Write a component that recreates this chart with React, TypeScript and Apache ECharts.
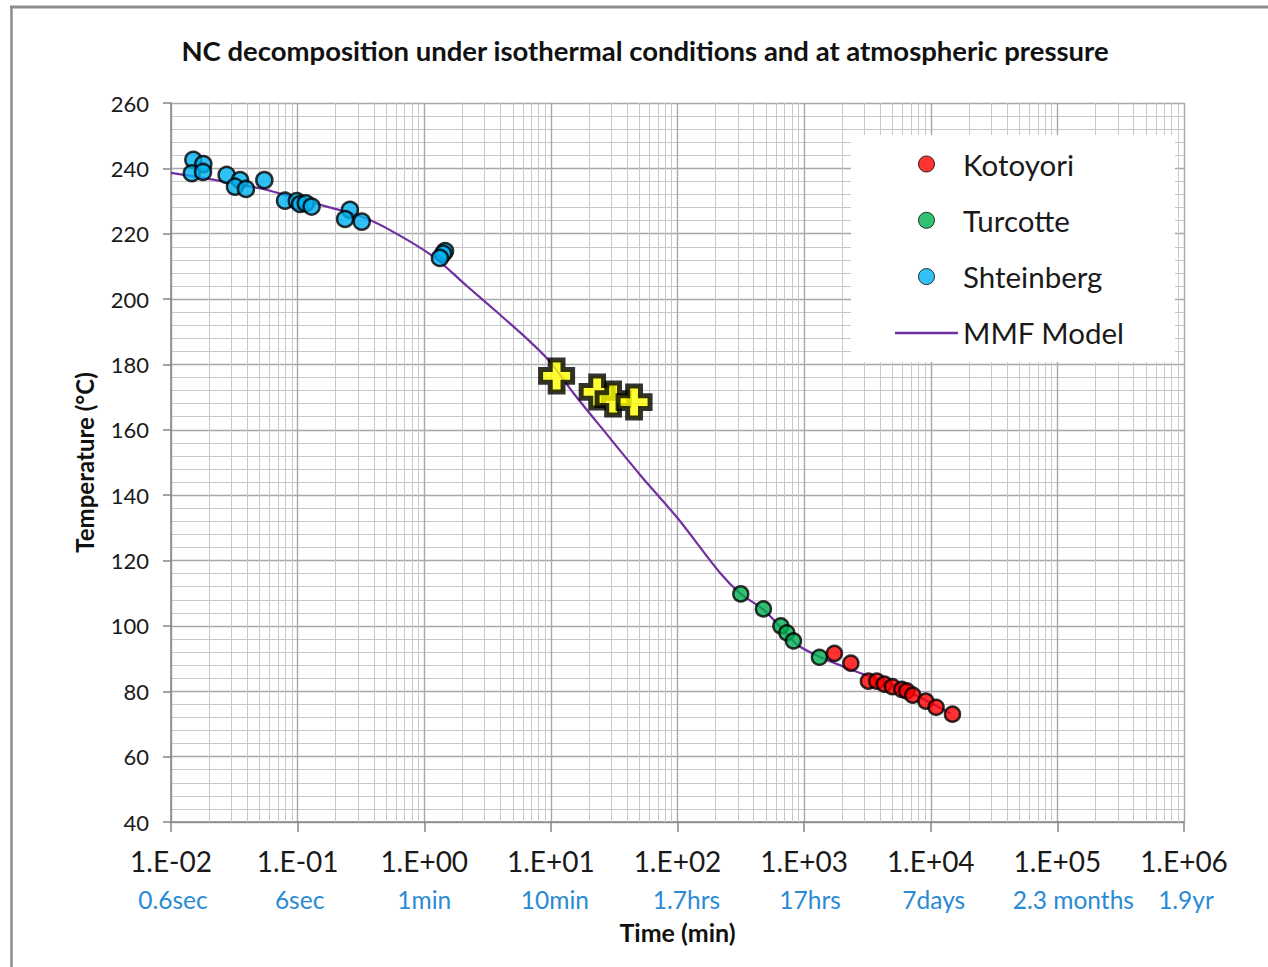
import React, { useEffect, useRef } from 'react';
import * as echarts from 'echarts';

const chartTitle = 'NC decomposition under isothermal conditions and at atmospheric pressure';
const xTickLabels = ['1.E-02', '1.E-01', '1.E+00', '1.E+01', '1.E+02', '1.E+03', '1.E+04', '1.E+05', '1.E+06'];
const xTimeLabels = ['0.6sec', '6sec', '1min', '10min', '1.7hrs', '17hrs', '7days', '2.3 months', '1.9yr'];

// [time (min), temperature (°C)]
const shteinberg: [number, number][] = [
  [0.0150, 242.6], [0.0180, 241.3], [0.0146, 238.5], [0.0179, 238.9],
  [0.0275, 238.0], [0.0351, 236.4], [0.0320, 234.4], [0.0391, 233.7],
  [0.0546, 236.4], [0.0795, 230.1], [0.0985, 230.0], [0.1045, 229.1],
  [0.116, 229.3], [0.129, 228.3], [0.259, 227.3], [0.237, 224.5],
  [0.321, 223.7], [1.46, 214.7], [1.41, 213.9], [1.33, 212.6],
];
const yellowCrosses: [number, number][] = [
  [11.1, 176.5], [23.2, 171.6], [31.0, 169.4], [45.4, 168.5],
];
const turcotte: [number, number][] = [
  [316, 109.8], [477, 105.2], [655, 100.0], [730, 97.9], [824, 95.4], [1321, 90.4],
];
const kotoyori: [number, number][] = [
  [1734, 91.6], [2339, 88.6], [3221, 83.1], [3750, 83.1], [4306, 82.2], [4978, 81.4],
  [5902, 80.6], [6469, 80.1], [7218, 78.8], [9140, 77.0], [11030, 75.1], [14840, 73.0],
];
const mmfModel: [number, number][] = [
  [0.01, 238.6], [0.0203, 236.7], [0.0505, 233.9], [0.0925, 231.1], [0.170, 228.3],
  [0.311, 225.4], [0.537, 221.1], [1.18, 213.0], [2.17, 204.0], [3.97, 195.2],
  [6.85, 187.0], [9.86, 180.8], [15.1, 171.2], [26.0, 159.9], [50.7, 146.2],
  [100, 133.0], [217, 116.2], [316, 109.8], [477, 105.0], [708, 98.1], [900, 94.0],
  [1337, 90.5], [2768, 85.6], [5728, 81.1], [14300, 73.3],
];

const FONT = 'Lato, "Noto Sans", sans-serif';

export default function App() {
  const ref = useRef<HTMLDivElement>(null);
  useEffect(() => {
    if (!ref.current) return;
    const chart = echarts.init(ref.current, null, { renderer: 'svg' });

    const minorGrid: { xAxis: number }[] = [];
    for (let e = -2; e < 6; e++) {
      for (let k = 2; k <= 9; k++) minorGrid.push({ xAxis: k * Math.pow(10, e) });
    }

    // horizontal nudges of the time labels (px, to the right)
    const timeShift = [2, 2, 0, 4, 9, 6, 3, 16, 2];
    const rich: Record<string, object> = {
      a: { fontFamily: FONT, fontSize: 28, color: '#1a1a1a', lineHeight: 38 },
    };
    timeShift.forEach((s, i) => {
      rich['b' + i] = { fontFamily: FONT, fontSize: 24.5, color: '#2a8ad4', lineHeight: 38, padding: [0, 0, 0, s * 2] };
    });

    const dot = (color: string) => ({ color, borderColor: '#000', borderWidth: 2.5 });

    chart.setOption({
      animation: false,
      backgroundColor: '#fff',
      textStyle: { fontFamily: FONT },
      title: {
        text: chartTitle,
        left: 640,
        top: 31,
        textAlign: 'center',
        textStyle: { fontFamily: FONT, fontSize: 27.5, fontWeight: 'bold', color: '#111' },
      },
      grid: { left: 171, top: 103, right: 84, bottom: 145, containLabel: false },
      legend: {
        left: 895,
        top: 149,
        orient: 'vertical',
        itemWidth: 63,
        itemHeight: 16,
        itemGap: 26.3,
        padding: 0,
        textStyle: { fontFamily: FONT, fontSize: 29.5, color: '#1a1a1a', lineHeight: 30 },
        data: [
          { name: 'Kotoyori', icon: 'circle', itemStyle: { borderWidth: 1 } },
          { name: 'Turcotte', icon: 'circle', itemStyle: { borderWidth: 1 } },
          { name: 'Shteinberg', icon: 'circle', itemStyle: { borderWidth: 1 } },
          { name: 'MMF Model', icon: 'path://M0,0H63V2.5H0Z', itemStyle: { color: '#7030a0', borderWidth: 0 } },
        ],
      },
      graphic: [
        { type: 'rect', z: 3, shape: { x: 851, y: 135, width: 324, height: 227 }, style: { fill: '#fff' }, silent: true },
        { type: 'line', z: 10, shape: { x1: 10, y1: 7, x2: 1268, y2: 7 }, style: { stroke: '#8c8c8c', lineWidth: 3 } },
        { type: 'line', z: 10, shape: { x1: 11.5, y1: 6, x2: 11.5, y2: 967 }, style: { stroke: '#8c8c8c', lineWidth: 2.5 } },
      ],
      xAxis: {
        type: 'log',
        logBase: 10,
        min: 0.01,
        max: 1e6,
        splitNumber: 8,
        name: 'Time (min)',
        nameLocation: 'middle',
        nameGap: 97,
        nameTextStyle: { fontFamily: FONT, fontSize: 25, fontWeight: 'bold', color: '#111' },
        axisLine: { show: true, lineStyle: { color: '#868686', width: 1.5 } },
        axisTick: { show: true, inside: false, length: 10, lineStyle: { color: '#868686', width: 1.5 } },
        splitLine: { show: true, lineStyle: { color: '#a8a8a8', width: 1.4 } },
        axisLabel: {
          margin: 20,
          formatter: (v: number) => {
            const i = Math.round(Math.log10(v)) + 2;
            return `{a|${xTickLabels[i]}}\n{b${i}|${xTimeLabels[i]}}`;
          },
          rich,
        },
      },
      yAxis: {
        type: 'value',
        min: 40,
        max: 260,
        interval: 20,
        name: 'Temperature (°C)',
        nameLocation: 'middle',
        nameGap: 75,
        nameTextStyle: { fontFamily: FONT, fontSize: 24, fontWeight: 'bold', color: '#111' },
        axisLine: { show: true, lineStyle: { color: '#868686', width: 1.5 } },
        axisTick: { show: true, inside: false, length: 8, lineStyle: { color: '#868686', width: 1.5 } },
        splitLine: { show: true, lineStyle: { color: '#a8a8a8', width: 1.4 } },
        minorTick: { show: false, splitNumber: 5 },
        minorSplitLine: { show: true, lineStyle: { color: '#c8c8c8', width: 1 } },
        axisLabel: { margin: 22, fontFamily: FONT, fontSize: 22, color: '#1a1a1a' },
      },
      series: [
        {
          name: 'grid-minor',
          type: 'scatter',
          data: [],
          z: 1,
          silent: true,
          markLine: {
            z: 1,
            silent: true,
            symbol: ['none', 'none'],
            label: { show: false },
            lineStyle: { color: '#c8c8c8', width: 1, type: 'solid' },
            data: minorGrid,
          },
        },
        {
          name: 'MMF Model',
          type: 'line',
          data: mmfModel,
          smooth: 0.3,
          showSymbol: false,
          symbol: 'none',
          z: 2,
          color: '#7030a0',
          lineStyle: { color: '#7030a0', width: 2.2 },
        },
        {
          name: 'Shteinberg',
          type: 'scatter',
          data: shteinberg,
          symbol: 'circle',
          symbolSize: 16,
          z: 4,
          itemStyle: dot('#00b0f0'),
        },
        {
          name: 'Yellow',
          type: 'scatter',
          data: yellowCrosses,
          symbol: 'path://M3,0H7V3H10V7H7V10H3V7H0V3H3Z',
          symbolSize: 32,
          z: 4,
          itemStyle: { color: '#ffff00', borderColor: '#000', borderWidth: 5 },
        },
        {
          name: 'Turcotte',
          type: 'scatter',
          data: turcotte,
          symbol: 'circle',
          symbolSize: 15,
          z: 4,
          itemStyle: dot('#00b050'),
        },
        {
          name: 'Kotoyori',
          type: 'scatter',
          data: kotoyori,
          symbol: 'circle',
          symbolSize: 15,
          z: 4,
          itemStyle: dot('#ff0000'),
        },
      ],
    });
    return () => chart.dispose();
  }, []);

  return (
    <div
      ref={ref}
      style={{ position: 'fixed', left: 0, top: 0, width: 1268, height: 967, background: '#fff' }}
    />
  );
}
